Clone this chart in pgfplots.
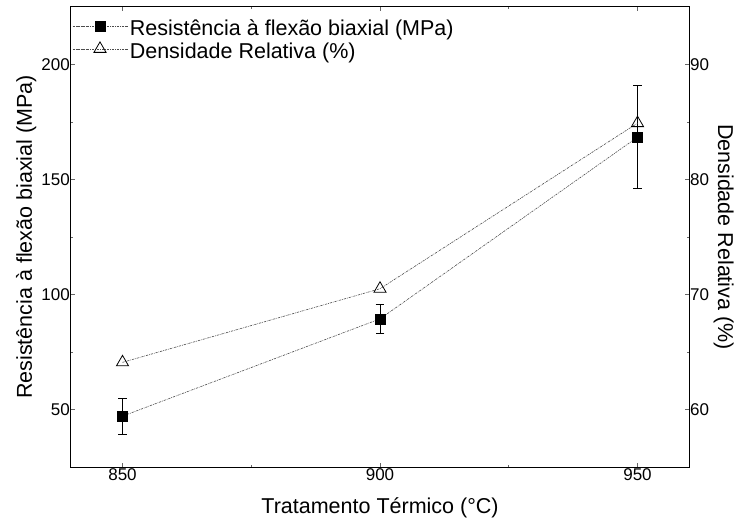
\documentclass[border=0pt]{standalone}
\usepackage{fontspec}
\setmainfont{Liberation Sans}
\usepackage{pgfplots}
\pgfplotsset{compat=1.18}

\pgfplotsset{
  common/.style={
    scale only axis, width=618pt, height=460pt,
    xmin=840, xmax=960, xtick={850,900,950}, minor x tick num=1,
    tick align=inside,
    major tick length=4pt, minor tick length=2.5pt,
    every tick/.style={black!60, line width=0.6pt},
    axis line style={line width=1pt},
    /pgf/number format/assume math mode=true,
    /pgf/number format/1000 sep={},
    tick label style={font=\fontsize{17}{20}\selectfont},
    yticklabel style={inner sep=1pt},
    xticklabel style={inner sep=1.5pt},
  },
  serline/.style={black!70, line width=0.6pt, dash pattern=on 2.2pt off 1pt on 0.7pt off 1pt},
  resstyle/.style={serline, mark=square*, mark size=5pt, mark options={solid, fill=black, draw=black, line width=0.5pt}},
  denstyle/.style={serline, mark=triangle, mark size=7pt, mark options={solid, fill=white, draw=black, line width=0.8pt}},
}

\begin{document}
\begin{tikzpicture}
\begin{axis}[common,
  ymin=25, ymax=225, ytick={50,100,150,200}, minor y tick num=1,
  ytick pos=left,
  xlabel={Tratamento Térmico (°C)},
  ylabel={Resistência à flexão biaxial (MPa)},
  every axis x label/.style={at={(axis description cs:0.5,0)}, anchor=base, yshift=-46pt, font=\fontsize{21.5}{25}\selectfont},
  every axis y label/.style={at={(axis description cs:0,0.5)}, xshift=-39pt, rotate=90, anchor=base, font=\fontsize{21.5}{25}\selectfont},
  legend style={at={(axis description cs:0,1)}, anchor=north west, xshift=1pt, yshift=-12.7pt,
    draw=none, fill=none, inner sep=0pt, row sep=0pt,
    font=\fontsize{21.5}{25}\selectfont,
    nodes={inner xsep=2pt, inner ysep=1pt, text height=15pt, text depth=5pt}},
  legend cell align=left,
  legend image code/.code={\draw[mark repeat=2, mark phase=2, #1] plot coordinates {(0pt,4.5pt) (27.5pt,4.5pt) (55pt,4.5pt)};},
]
\coordinate (SW) at (rel axis cs:0,0);
\coordinate (NE) at (rel axis cs:1,1);
\addplot[resstyle,
  error bars/.cd, y dir=both, y explicit,
  error bar style={solid, black, line width=0.8pt},
  error mark options={rotate=90, mark size=4.3pt, black, line width=0.8pt, solid}]
  coordinates {(850,47.1) +- (0,7.9) (900,89.4) +- (0,6.3) (950,168.4) +- (0,22.3)};
\addlegendentry{Resistência à flexão biaxial (MPa)}
\addlegendimage{denstyle}
\addlegendentry{Densidade Relativa (\%)}
\end{axis}
\begin{axis}[common,
  ymin=55, ymax=95, ytick={60,70,80,90}, minor y tick num=1,
  axis x line=none, axis y line*=right,
  ytick align=inside,
  ylabel={Densidade Relativa (\%)},
  every axis y label/.style={at={(axis description cs:1,0.5)}, xshift=29pt, rotate=-90, anchor=base, font=\fontsize{21.5}{25}\selectfont},
]
\addplot[denstyle] coordinates {(850,64.1) (900,70.5) (950,84.9)};
\end{axis}
\pgfresetboundingbox
\path ([shift={(-71pt,-52pt)}]SW) rectangle ([shift={(49pt,7pt)}]NE);
\end{tikzpicture}
\end{document}
